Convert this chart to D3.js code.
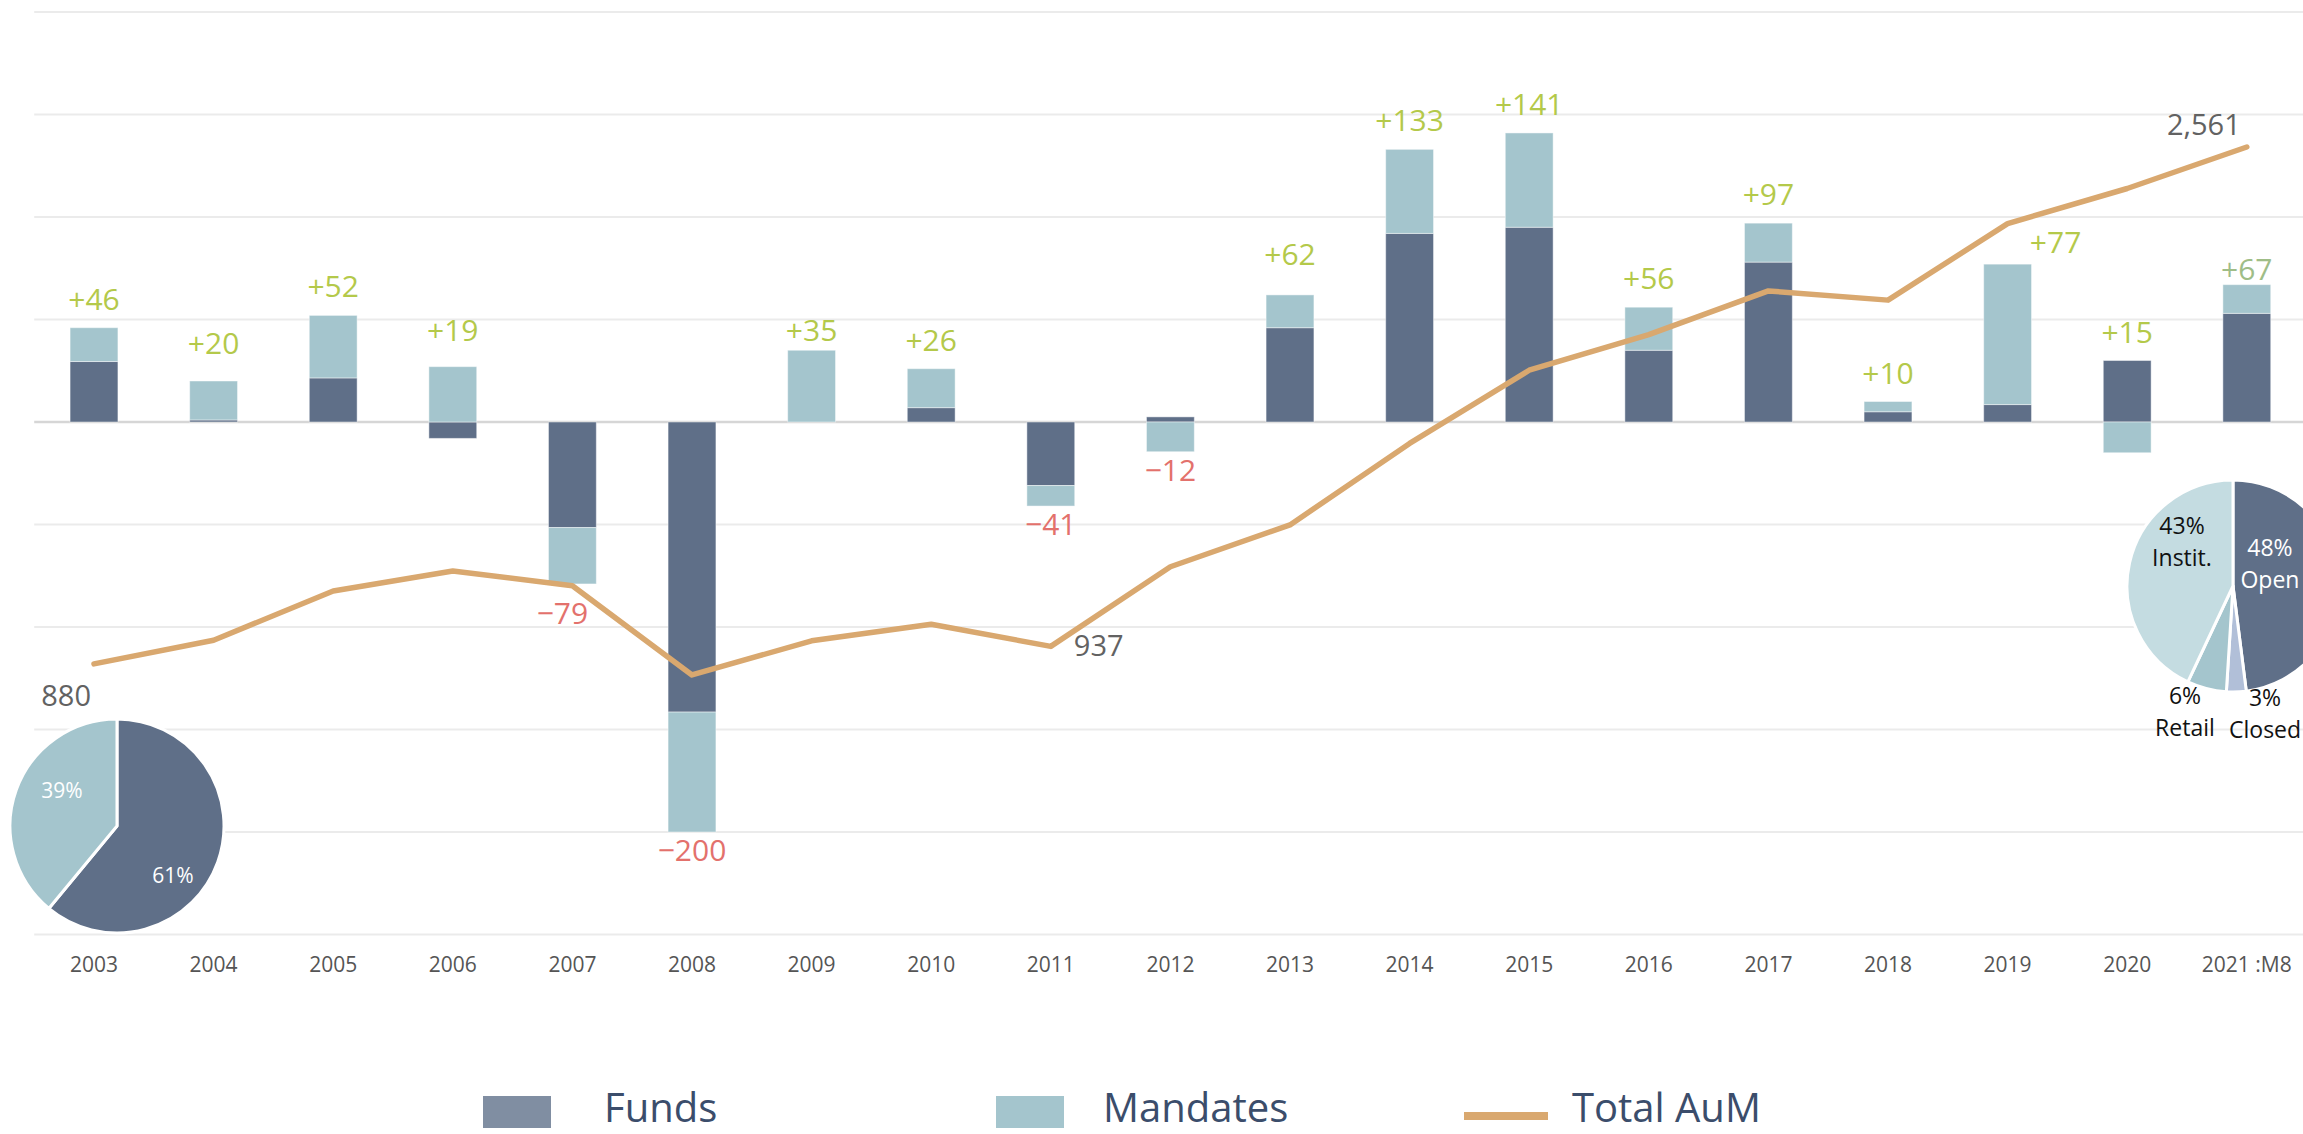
<!DOCTYPE html>
<html>
<head>
<meta charset="utf-8">
<script src="https://cdn.jsdelivr.net/npm/d3@7"></script>
<style>
  html, body { margin: 0; padding: 0; background: #ffffff; }
  svg { display: block; }
  text { font-family: "Open Sans", "Liberation Sans", sans-serif; }
</style>
</head>
<body>
<svg id="chart" width="2303" height="1134"></svg>
<script>
// ---------------- DATA ----------------
const years = ["2003","2004","2005","2006","2007","2008","2009","2010","2011","2012",
               "2013","2014","2015","2016","2017","2018","2019","2020","2021 :M8"];
const funds    = [29.5, 1, 21.5, -8, -51.5, -141.5, 0, 7, -31, 2.5, 46, 92, 95, 35, 78, 5, 8.5, 30, 53];
const mandates = [16.5, 19, 30.5, 27, -27.5, -58.5, 35, 19, -10, -14.5, 16, 41, 46, 21, 19, 5, 68.5, -15, 14];
const totalAuM = [880, 957, 1117, 1182, 1134, 844, 955, 1009, 937, 1196, 1332, 1597, 1835, 1951, 2093, 2063, 2312, 2426, 2561];
const netFlowLabels = ["+46","+20","+52","+19","−79","−200","+35","+26","−41","−12",
                       "+62","+133","+141","+56","+97","+10","+77","+15","+67"];
const aumCallouts = [ {idx: 0, text: "880"}, {idx: 8, text: "937"}, {idx: 18, text: "2,561"} ];
const barTicks = [-250, -200, -150, -100, -50, 0, 50, 100, 150, 200];
const pie2003Labels = ["Funds", "Mandates"];
const pie2003Values = [61, 39];
const pie2021Labels = ["Open", "Closed", "Retail", "Instit."];
const pie2021Values = [48, 3, 6, 43];
const legendLabels = ["Funds", "Mandates", "Total AuM"];

// ---------------- STYLE / LAYOUT ----------------
const C = {
  funds: "#5f6f88", mandates: "#a4c5cd", line: "#d9a86f",
  pos: "#b4c94a", pos2: "#9fbd87", neg: "#e3716c", aum: "#626262",
  grid: "#ebebeb", zero: "#d6d6d6", axis: "#555555", legendText: "#3b4d6b",
  legendFunds: "#808ea2", closed: "#b1bfd8", instit: "#c4dce1"
};
const W = 2303, H = 1134;
const plot = { left: 34.2, right: 2306.6, top: 12, bottom: 934.5 };

const svg = d3.select("#chart");
svg.append("rect").attr("width", W).attr("height", H).attr("fill", "#fff");

const x = d3.scaleBand().domain(years).range([plot.left, plot.right])
  .paddingInner(0.6).paddingOuter(0.3);
const yBar = d3.scaleLinear().domain([-250, 200]).range([plot.bottom, plot.top]);
const yLine = d3.scaleLinear().domain([0, 3000]).range([plot.bottom, plot.top]);
const cx = d => x(d) + x.bandwidth() / 2;

// gridlines
svg.append("g").selectAll("line").data(barTicks).join("line")
  .attr("x1", plot.left).attr("x2", plot.right)
  .attr("y1", d => yBar(d)).attr("y2", d => yBar(d))
  .attr("stroke", d => d === 0 ? C.zero : C.grid)
  .attr("stroke-width", d => d === 0 ? 2.5 : 2);

// x axis labels
const xAxis = d3.axisBottom(x).tickSize(0).tickPadding(0);
const gx = svg.append("g").attr("transform", `translate(0, ${plot.bottom})`).call(xAxis);
gx.select(".domain").remove();
gx.selectAll("text")
  .attr("y", 37).attr("dy", 0)
  .attr("font-family", "'Open Sans', sans-serif")
  .attr("font-size", 21).attr("fill", C.axis);

// stacked bars
const rows = years.map((y, i) => ({ year: y, funds: funds[i], mandates: mandates[i] }));
const stack = d3.stack().keys(["funds", "mandates"]).offset(d3.stackOffsetDiverging);
const series = stack(rows);
const colors = { funds: C.funds, mandates: C.mandates };
svg.append("g").selectAll("g").data(series).join("g")
  .attr("fill", s => colors[s.key])
  .selectAll("rect").data(s => s).join("rect")
  .attr("x", d => x(d.data.year))
  .attr("width", x.bandwidth())
  .attr("y", d => yBar(Math.max(d[0], d[1])))
  .attr("height", d => Math.abs(yBar(d[0]) - yBar(d[1])))
  .attr("stroke", "#ffffff").attr("stroke-opacity", 0.45).attr("stroke-width", 1);

// pies (drawn before line so line is on top)
function drawPie(values, colorsArr, center, r) {
  const pie = d3.pie().sort(null).value(d => d);
  const arc = d3.arc().innerRadius(0).outerRadius(r);
  const g = svg.append("g").attr("transform", `translate(${center[0]},${center[1]})`);
  g.selectAll("path").data(pie(values)).join("path")
    .attr("d", arc).attr("fill", (d, i) => colorsArr[i])
    .attr("stroke", "#fff").attr("stroke-width", 3).attr("stroke-linejoin", "round");
  return g;
}
function polar(angleDeg, rad) {
  const a = angleDeg * Math.PI / 180;
  return [rad * Math.sin(a), -rad * Math.cos(a)];
}
// 2003 pie
const pieA = drawPie(pie2003Values, [C.funds, C.mandates], [117, 826], 107);
const pieALabelPos = [[131.7, 75], [302.8, 65.5]];
pie2003Values.forEach((v, i) => {
  const p = polar(pieALabelPos[i][0], pieALabelPos[i][1]);
  pieA.append("text").attr("x", p[0]).attr("y", p[1] + 7.5)
    .attr("text-anchor", "middle").attr("font-size", 21).attr("fill", "#ffffff")
    .text(v + "%");
});
// 2021 pie
const pieB = drawPie(pie2021Values, [C.funds, C.closed, C.mandates, C.instit], [2233, 586], 106);
const pieBLabelPos = [[59.8, 42.8], [166, 132.4], [200.8, 135.3], [311.1, 67.7]];
const pieBTextColor = ["#ffffff", "#111111", "#111111", "#111111"];
pie2021Values.forEach((v, i) => {
  const p = polar(pieBLabelPos[i][0], pieBLabelPos[i][1]);
  const t = pieB.append("text").attr("text-anchor", "middle")
    .attr("font-size", 23).attr("fill", pieBTextColor[i]);
  t.append("tspan").attr("x", p[0]).attr("y", p[1] - 8).text(v + "%");
  t.append("tspan").attr("x", p[0]).attr("y", p[1] + 24).text(pie2021Labels[i]);
});

// Total AuM line
const line = d3.line().x((d, i) => cx(years[i])).y(d => yLine(d));
svg.append("path").datum(totalAuM).attr("d", line)
  .attr("fill", "none").attr("stroke", C.line).attr("stroke-width", 5.5)
  .attr("stroke-linejoin", "round").attr("stroke-linecap", "round");

// net-flow labels
const labelNudge = { "2004": [0, -9], "2006": [0, -8], "2009": [0, 9], "2013": [0, -12],
                     "2019": [48, 7], "2021 :M8": [0, 13], "2007": [-10, 11] };
const totals = years.map((y, i) => funds[i] + mandates[i]);
svg.append("g").selectAll("text").data(years).join("text")
  .attr("text-anchor", "middle").attr("font-size", 30)
  .attr("fill", (d, i) => totals[i] < 0 ? C.neg : (i === years.length - 1 ? C.pos2 : C.pos))
  .attr("x", (d, i) => cx(d) + (labelNudge[d] ? labelNudge[d][0] : 0))
  .attr("y", (d, i) => {
    const posTop = Math.max(0, funds[i]) + Math.max(0, mandates[i]);
    const negBot = Math.min(0, funds[i]) + Math.min(0, mandates[i]);
    const base = totals[i] >= 0 ? yBar(posTop) - 18 : yBar(negBot) + 29;
    return base + (labelNudge[d] ? labelNudge[d][1] : 0);
  })
  .text((d, i) => netFlowLabels[i]);

// AuM callouts
const calloutLayout = { 0: { dx: -3, dy: 42, anchor: "end" },
                        8: { dx: 23, dy: 10, anchor: "start" },
                        18: { dx: -6, dy: -12, anchor: "end" } };
svg.append("g").selectAll("text").data(aumCallouts).join("text")
  .attr("x", d => cx(years[d.idx]) + calloutLayout[d.idx].dx)
  .attr("y", d => yLine(totalAuM[d.idx]) + calloutLayout[d.idx].dy)
  .attr("text-anchor", d => calloutLayout[d.idx].anchor)
  .attr("font-size", 29).attr("fill", C.aum)
  .text(d => d.text);

// legend
const legend = svg.append("g");
const legendItems = [
  { label: legendLabels[0], type: "rect", color: C.legendFunds, sx: 483, tx: 604 },
  { label: legendLabels[1], type: "rect", color: C.mandates, sx: 996, tx: 1103 },
  { label: legendLabels[2], type: "line", color: C.line, sx: 1464, tx: 1572 }
];
legendItems.forEach(it => {
  if (it.type === "rect") {
    legend.append("rect").attr("x", it.sx).attr("y", 1096).attr("width", 68).attr("height", 32)
      .attr("fill", it.color);
  } else {
    legend.append("line").attr("x1", it.sx).attr("x2", it.sx + 84)
      .attr("y1", 1116).attr("y2", 1116)
      .attr("stroke", it.color).attr("stroke-width", 8);
  }
  legend.append("text").attr("x", it.tx).attr("y", 1122)
    .attr("font-size", 40).attr("fill", C.legendText).text(it.label);
});
</script>
</body>
</html>
